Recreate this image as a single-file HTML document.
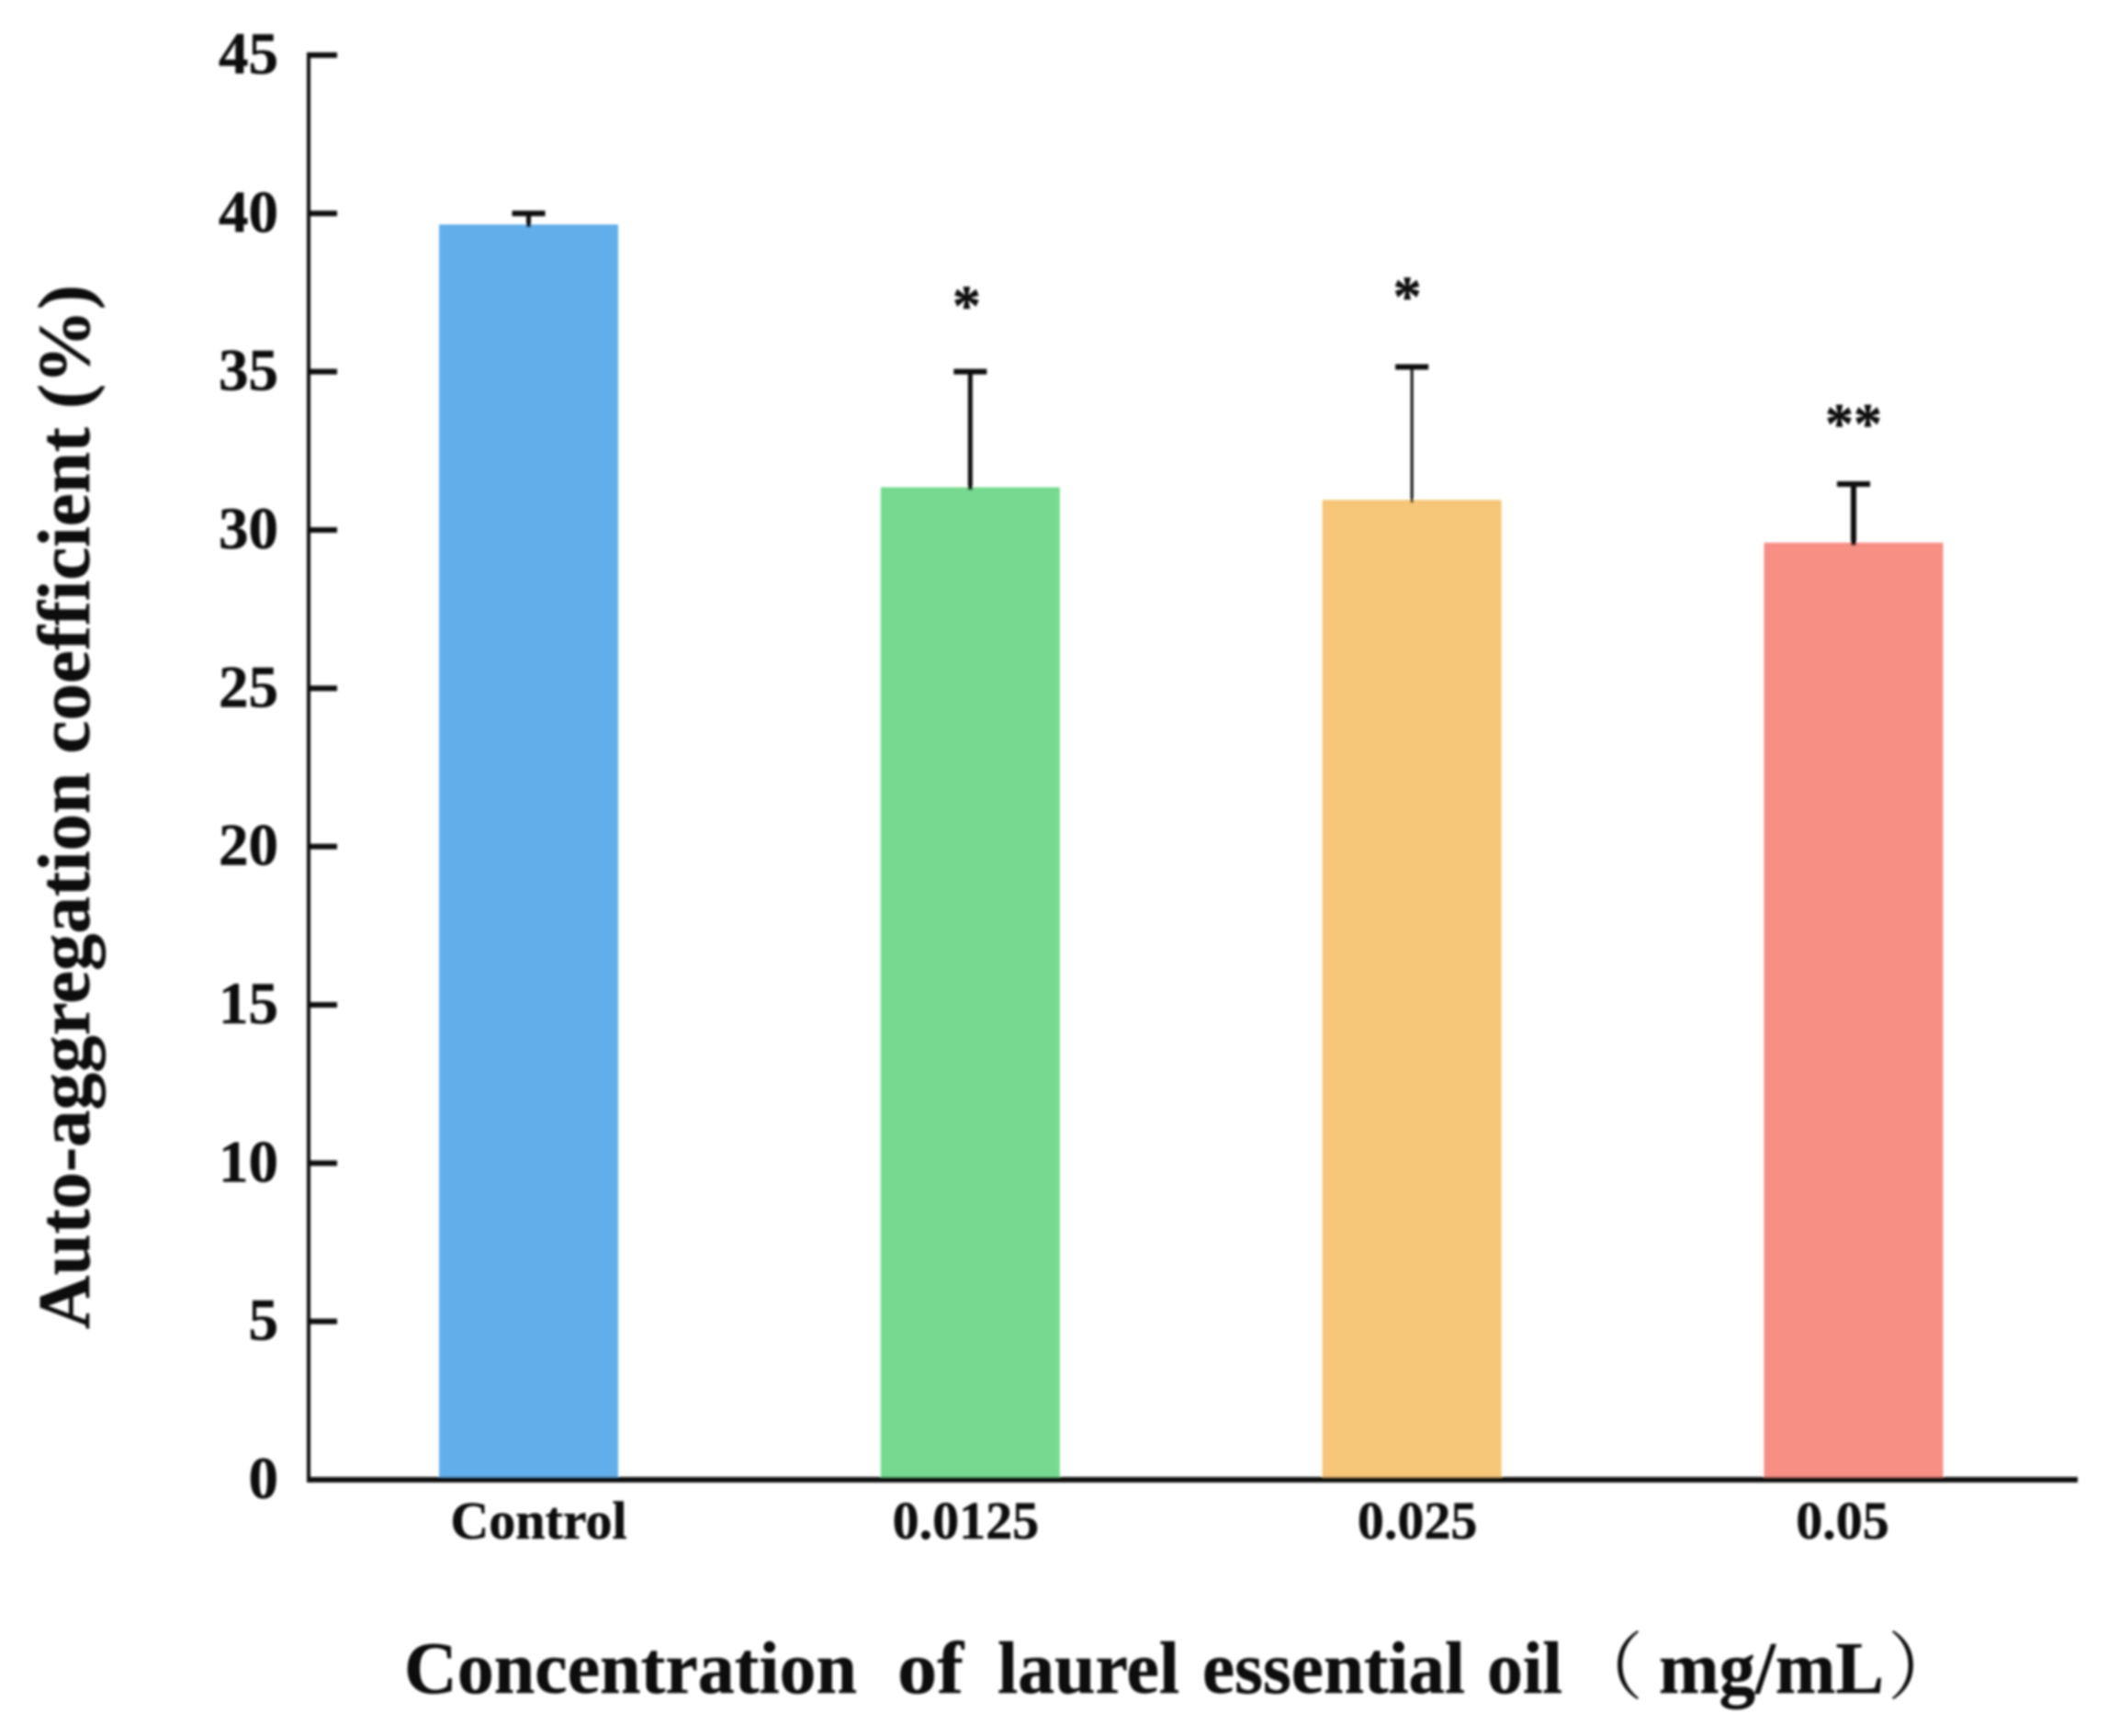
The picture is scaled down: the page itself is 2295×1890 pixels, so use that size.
<!DOCTYPE html>
<html lang="en">
<head>
<meta charset="utf-8">
<title>Auto-aggregation coefficient chart</title>
<style>
html,body{margin:0;padding:0;background:#fff;}
svg{display:block;}
text{font-family:"Liberation Serif","Noto Serif CJK SC",serif;font-weight:700;fill:#111;stroke:#111;stroke-width:0.5px;}
</style>
</head>
<body>
<svg id="chart" xmlns="http://www.w3.org/2000/svg" width="2295" height="1890" viewBox="0 0 2295 1890">
  <defs>
    <filter id="soft" x="-5%" y="-5%" width="110%" height="110%"><feGaussianBlur stdDeviation="1.2"/></filter>
  </defs>
  <rect x="0" y="0" width="2295" height="1890" fill="#ffffff"/>
  <g id="marks" filter="url(#soft)"></g>
  <g filter="url(#soft)">
    <text transform="translate(97,1447) rotate(-90)" font-size="80" textLength="1137" lengthAdjust="spacingAndGlyphs">Auto-aggregation coefficient (%)</text>
    <g font-size="80">
      <text x="440" y="1843" textLength="493" lengthAdjust="spacingAndGlyphs">Concentration</text>
      <text x="977" y="1843" textLength="72" lengthAdjust="spacingAndGlyphs">of</text>
      <text x="1086" y="1843" textLength="198" lengthAdjust="spacingAndGlyphs">laurel</text>
      <text x="1309" y="1843" textLength="286" lengthAdjust="spacingAndGlyphs">essential</text>
      <text x="1619" y="1843" textLength="82" lengthAdjust="spacingAndGlyphs">oil</text>
      <text x="1709" y="1843" style="font-weight:400;stroke-width:0">（</text>
      <text x="1806" y="1843" textLength="245" lengthAdjust="spacingAndGlyphs">mg/mL</text>
      <text x="2055" y="1843" style="font-weight:400;stroke-width:0">）</text>
    </g>
  </g>
</svg>
<script>
// ---- chart data ----
const categories = ["Control", "0.0125", "0.025", "0.05"];
const meanValues = [39.65, 31.35, 30.95, 29.6];
const errorValues = [0.35, 3.65, 4.2, 1.85];
const significance = ["", "*", "*", "**"];
const significanceLevels = [0, 36.48, 36.78, 32.75];
const yTickValues = [0, 5, 10, 15, 20, 25, 30, 35, 40, 45];
const yTickLabels = ["0", "5", "10", "15", "20", "25", "30", "35", "40", "45"];

// ---- layout and style ----
const plot = { left: 336, right: 2262, top: 60, bottom: 1611, yMax: 45 };
const barLayout = { first: 575.5, step: 480.83, width: 195 };
const barColors = ["#62aeea", "#76d98f", "#f6c679", "#f78f85"];
const stemWidths = [5, 5, 3, 6];
const labelNudge = [11, -5, 6, -12];
const starNudge = [0, -4, -5, 0];

function yScale(v) {
  return plot.bottom - (v / plot.yMax) * (plot.bottom - plot.top);
}
function xCenter(i) {
  return barLayout.first + i * barLayout.step;
}

const NS = "http://www.w3.org/2000/svg";
const marks = document.getElementById("marks");

function lineEl(x1, y1, x2, y2, width, color) {
  const el = document.createElementNS(NS, "line");
  el.setAttribute("x1", x1);
  el.setAttribute("y1", y1);
  el.setAttribute("x2", x2);
  el.setAttribute("y2", y2);
  el.setAttribute("stroke", color);
  el.setAttribute("stroke-width", width);
  return el;
}
function textEl(str, x, y, size, anchor) {
  const el = document.createElementNS(NS, "text");
  el.textContent = str;
  el.setAttribute("x", x);
  el.setAttribute("y", y);
  el.setAttribute("font-size", size);
  el.setAttribute("text-anchor", anchor);
  return el;
}

// bars
categories.forEach(function (cat, i) {
  const top = yScale(meanValues[i]);
  const bar = document.createElementNS(NS, "rect");
  bar.setAttribute("x", xCenter(i) - barLayout.width / 2);
  bar.setAttribute("y", top);
  bar.setAttribute("width", barLayout.width);
  bar.setAttribute("height", plot.bottom - top);
  bar.setAttribute("fill", barColors[i]);
  
  
  marks.appendChild(bar);
});

// error bars
categories.forEach(function (cat, i) {
  const cx = xCenter(i);
  const capY = yScale(meanValues[i] + errorValues[i]);
  const stem = lineEl(cx, yScale(meanValues[i]) + 3, cx, capY, stemWidths[i], "#111");
  
  
  marks.appendChild(stem);
  const cap = lineEl(cx - 18, capY, cx + 18, capY, 6, "#111");
  
  
  marks.appendChild(cap);
});

// significance markers
categories.forEach(function (cat, i) {
  if (!significance[i]) return;
  const star = textEl(significance[i], xCenter(i) + starNudge[i], yScale(significanceLevels[i]), 62, "middle");
  
  
  marks.appendChild(star);
});

// y axis
const yAxis = lineEl(plot.left, plot.top - 3, plot.left, plot.bottom, 4, "#111");


marks.appendChild(yAxis);

yTickValues.forEach(function (v, i) {
  const y = yScale(v);
  if (v > 0) {
    const tick = lineEl(plot.left, y, plot.left + 31, y, 6, "#111");
    
    
    marks.appendChild(tick);
  }
  const label = textEl(yTickLabels[i], 303, y + 20, 65, "end");
  
  
  marks.appendChild(label);
});

// x axis
const xAxis = lineEl(plot.left - 2, plot.bottom, plot.right, plot.bottom, 6, "#111");


marks.appendChild(xAxis);

categories.forEach(function (cat, i) {
  const label = textEl(cat, xCenter(i) + labelNudge[i], 1675, 58, "middle");
  
  
  marks.appendChild(label);
});
</script>
</body>
</html>
